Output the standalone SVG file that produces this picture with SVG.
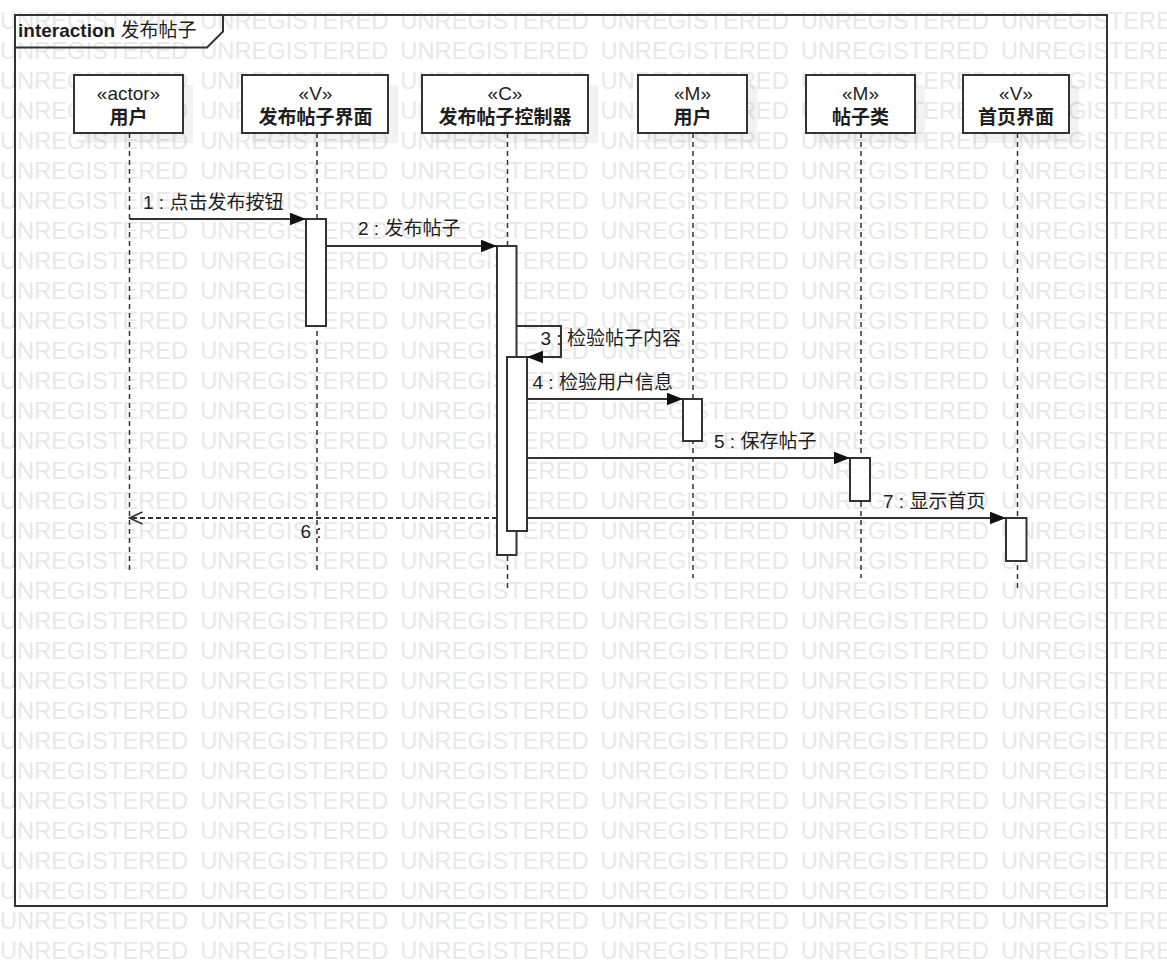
<svg xmlns="http://www.w3.org/2000/svg" xmlns:xlink="http://www.w3.org/1999/xlink" width="1167" height="966" viewBox="0 0 1167 966">
<style>
.wm{font-family:"Liberation Sans",Arial,sans-serif;font-size:23.7px;fill:#e8e8e8;word-spacing:5.4px}
.t{font-family:"Liberation Sans","Noto Sans CJK SC",sans-serif;font-size:19px;fill:#1e1e1e}
.st{text-anchor:middle}
.nm{text-anchor:middle;font-weight:bold}
.box{fill:#fff;stroke:#333;stroke-width:2}
.sh{fill:#000;fill-opacity:0.05}
.life{stroke:#333;stroke-width:1.5;stroke-dasharray:5 4;fill:none}
.bar{fill:#fff;stroke:#333;stroke-width:2}
.msg{stroke:#333;stroke-width:2;fill:none}
.ret{stroke:#333;stroke-width:2;fill:none;stroke-dasharray:5 3}
</style>
<defs>
<marker id="fa" markerUnits="userSpaceOnUse" markerWidth="17" markerHeight="14" refX="16" refY="6.3" orient="auto">
<path d="M0,0 L16,6.3 L0,12.6 z" fill="#111"/>
</marker>
<marker id="oa" markerUnits="userSpaceOnUse" markerWidth="16" markerHeight="16" refX="14" refY="7" orient="auto">
<path d="M1,1 L14,7 L1,13" fill="none" stroke="#333" stroke-width="1.8"/>
</marker>
<text id="wmrow" class="wm" x="0" y="29">UNREGISTERED UNREGISTERED UNREGISTERED UNREGISTERED UNREGISTERED UNREGISTERED</text>
</defs>
<rect width="1167" height="966" fill="#fff"/>
<g id="watermark">
<use xlink:href="#wmrow" y="0"/><use xlink:href="#wmrow" y="30"/><use xlink:href="#wmrow" y="60"/><use xlink:href="#wmrow" y="90"/>
<use xlink:href="#wmrow" y="120"/><use xlink:href="#wmrow" y="150"/><use xlink:href="#wmrow" y="180"/><use xlink:href="#wmrow" y="210"/>
<use xlink:href="#wmrow" y="240"/><use xlink:href="#wmrow" y="270"/><use xlink:href="#wmrow" y="300"/><use xlink:href="#wmrow" y="330"/>
<use xlink:href="#wmrow" y="360"/><use xlink:href="#wmrow" y="390"/><use xlink:href="#wmrow" y="420"/><use xlink:href="#wmrow" y="450"/>
<use xlink:href="#wmrow" y="480"/><use xlink:href="#wmrow" y="510"/><use xlink:href="#wmrow" y="540"/><use xlink:href="#wmrow" y="570"/>
<use xlink:href="#wmrow" y="600"/><use xlink:href="#wmrow" y="630"/><use xlink:href="#wmrow" y="660"/><use xlink:href="#wmrow" y="690"/>
<use xlink:href="#wmrow" y="720"/><use xlink:href="#wmrow" y="750"/><use xlink:href="#wmrow" y="780"/><use xlink:href="#wmrow" y="810"/>
<use xlink:href="#wmrow" y="840"/><use xlink:href="#wmrow" y="870"/><use xlink:href="#wmrow" y="900"/><use xlink:href="#wmrow" y="930"/>
</g>
<g id="frame">
<rect x="15" y="15" width="1092" height="891" fill="none" stroke="#333" stroke-width="2"/>
<path d="M15,47.5 H207 L223,31.5 V15" fill="none" stroke="#333" stroke-width="2"/>
<text class="t" x="18" y="37"><tspan font-weight="bold">interaction</tspan> 发布帖子</text>
</g>
<g id="lifelines">
<path class="life" d="M129.5,133 V571"/>
<path class="life" d="M317,133 V571"/>
<path class="life" d="M507.5,133 V589"/>
<path class="life" d="M693,133 V578"/>
<path class="life" d="M861,133 V578"/>
<path class="life" d="M1017.5,133 V589"/>
</g>
<g id="n_actor">
<rect class="sh" x="84" y="85" width="109" height="58"/>
<rect class="box" x="74" y="75" width="109" height="58"/>
<text class="t st" x="128.5" y="99.5">«actor»</text>
<text class="t nm" x="128.5" y="124">用户</text>
</g>
<g id="n_post_view">
<rect class="sh" x="252" y="85" width="146" height="58"/>
<rect class="box" x="242" y="75" width="146" height="58"/>
<text class="t st" x="315.5" y="99.5">«V»</text>
<text class="t nm" x="315.5" y="124">发布帖子界面</text>
</g>
<g id="n_post_ctrl">
<rect class="sh" x="432" y="85" width="166" height="58"/>
<rect class="box" x="422" y="75" width="166" height="58"/>
<text class="t st" x="505" y="99.5">«C»</text>
<text class="t nm" x="505" y="124">发布帖子控制器</text>
</g>
<g id="n_user_model">
<rect class="sh" x="648" y="85" width="109" height="58"/>
<rect class="box" x="638" y="75" width="109" height="58"/>
<text class="t st" x="692.5" y="99.5">«M»</text>
<text class="t nm" x="692.5" y="124">用户</text>
</g>
<g id="n_post_model">
<rect class="sh" x="816" y="85" width="109" height="58"/>
<rect class="box" x="806" y="75" width="109" height="58"/>
<text class="t st" x="860.5" y="99.5">«M»</text>
<text class="t nm" x="860.5" y="124">帖子类</text>
</g>
<g id="n_home_view">
<rect class="sh" x="973" y="85" width="106" height="58"/>
<rect class="box" x="963" y="75" width="106" height="58"/>
<text class="t st" x="1016" y="99.5">«V»</text>
<text class="t nm" x="1016" y="124">首页界面</text>
</g>
<g id="activations">
<rect class="bar" x="306" y="219" width="20" height="107"/>
<rect class="bar" x="497" y="246" width="19.5" height="309"/>
<rect class="bar" x="507" y="357" width="20" height="174"/>
<rect class="bar" x="683" y="399" width="19" height="42"/>
<rect class="bar" x="850" y="458" width="20" height="43"/>
<rect class="bar" x="1006" y="518" width="20.5" height="43"/>
</g>
<g id="connectors">
<path class="msg" d="M129.5,219 H306" marker-end="url(#fa)"/>
<path class="msg" d="M326,246 H497" marker-end="url(#fa)"/>
<path class="msg" d="M516.5,326 H561 V357 H527" marker-end="url(#fa)"/>
<path class="msg" d="M527,399 H683" marker-end="url(#fa)"/>
<path class="msg" d="M527,458 H850" marker-end="url(#fa)"/>
<path class="ret" d="M497,518 H129.5" marker-end="url(#oa)"/>
<path class="msg" d="M527,518 H1006" marker-end="url(#fa)"/>
<text class="t" x="143" y="208.5">1 : 点击发布按钮</text>
<text class="t" x="358" y="235">2 : 发布帖子</text>
<text class="t" x="540.5" y="345">3 : 检验帖子内容</text>
<text class="t" x="532.5" y="388.5">4 : 检验用户信息</text>
<text class="t" x="714" y="448">5 : 保存帖子</text>
<text class="t" x="300.5" y="538">6 :</text>
<text class="t" x="883" y="508">7 : 显示首页</text>
</g>
</svg>
